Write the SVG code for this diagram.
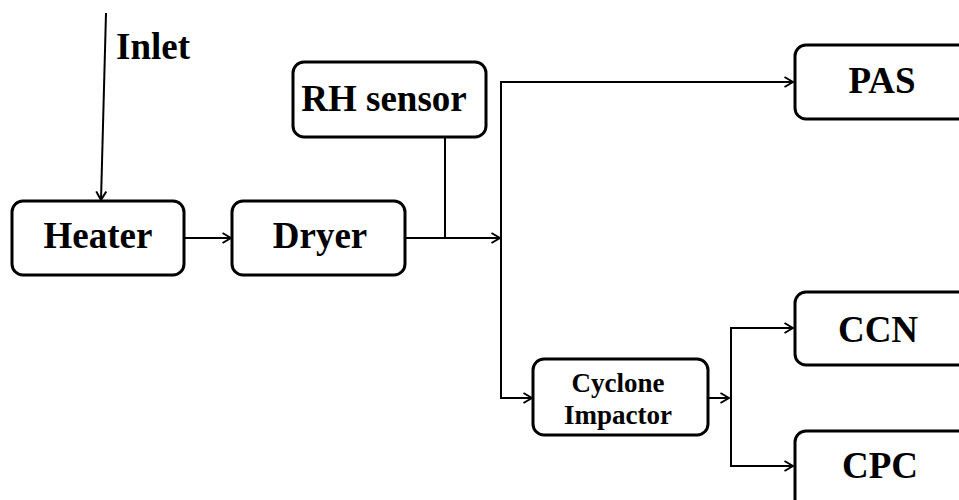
<svg xmlns="http://www.w3.org/2000/svg" width="959" height="500" viewBox="0 0 959 500">
<style>
.box{fill:#fff;stroke:#000;stroke-width:3}
.lbl{font-family:"Liberation Serif","Times New Roman",serif;font-weight:bold;font-size:37px;fill:#000;text-anchor:middle}
.sm{font-size:27px}
.ln{fill:none;stroke:#000;stroke-width:2}
</style>
<defs>
<marker id="ah" viewBox="0 0 10 12" refX="9.5" refY="6" markerWidth="10" markerHeight="12" markerUnits="userSpaceOnUse" orient="auto">
<path d="M1,1 L9.5,6 L1,11" fill="none" stroke="#000" stroke-width="2"/>
</marker>
</defs>
<g id="connectors">
<path class="ln" d="M106,13 L101,200" marker-end="url(#ah)"/>
<path class="ln" d="M184,238 L231,238" marker-end="url(#ah)"/>
<path class="ln" d="M405,238 L500,238" marker-end="url(#ah)"/>
<path class="ln" d="M445,137 L445,238"/>
<path class="ln" d="M501,238 L501,82 L793,82" marker-end="url(#ah)"/>
<path class="ln" d="M501,238 L501,398 L532,398" marker-end="url(#ah)"/>
<path class="ln" d="M708,398 L729,398" marker-end="url(#ah)"/>
<path class="ln" d="M731,398 L731,328 L793,328" marker-end="url(#ah)"/>
<path class="ln" d="M731,398 L731,466 L793,466" marker-end="url(#ah)"/>
</g>
<text class="lbl" x="153" y="59">Inlet</text>
<g id="heater"><rect class="box" x="12" y="201" width="172" height="74" rx="11"/><text class="lbl" x="98" y="248">Heater</text></g>
<g id="dryer"><rect class="box" x="232" y="201" width="173" height="74" rx="11"/><text class="lbl" x="320" y="248">Dryer</text></g>
<g id="rh"><rect class="box" x="293" y="62" width="193" height="75" rx="11"/><text class="lbl" x="384" y="111">RH sensor</text></g>
<g id="pas"><rect class="box" x="795" y="45" width="180" height="74" rx="11"/><text class="lbl" x="882" y="93">PAS</text></g>
<g id="cyclone"><rect class="box" x="533" y="359" width="175" height="76" rx="11"/><text class="lbl sm" x="618" y="392">Cyclone</text><text class="lbl sm" x="618" y="424">Impactor</text></g>
<g id="ccn"><rect class="box" x="795" y="292" width="180" height="73" rx="11"/><text class="lbl" x="878" y="342">CCN</text></g>
<g id="cpc"><rect class="box" x="795" y="431" width="180" height="80" rx="11"/><text class="lbl" x="880" y="478">CPC</text></g>
</svg>
